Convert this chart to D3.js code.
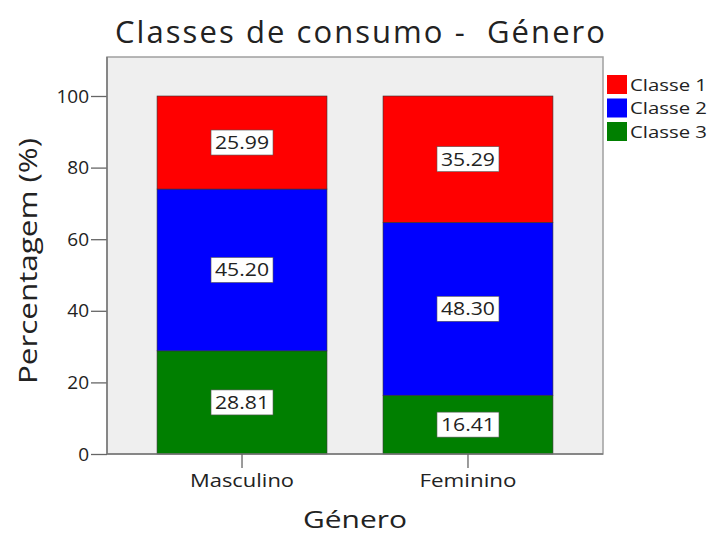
<!DOCTYPE html>
<html><head><meta charset="utf-8">
<script src="https://cdn.jsdelivr.net/npm/d3@7"></script>
<style>body{margin:0;background:#fff}text{font-family:"Open Sans",Lato,sans-serif;fill:#222}</style>
</head><body><svg id="c" width="716" height="535"></svg>
<script>
const categories = ["Masculino", "Feminino"];
const seriesNames = ["Classe 1", "Classe 2", "Classe 3"];
const classe1 = [25.99, 35.29];
const classe2 = [45.20, 48.30];
const classe3 = [28.81, 16.41];
const yTicks = [0, 20, 40, 60, 80, 100];
const colors = ["#ff0000", "#0000ff", "#007f00"];

const svg = d3.select("#c");
const L = 107, R = 603, T = 57, B = 454;
const x = d3.scaleBand().domain(categories).range([L, R]).paddingInner(0.248).paddingOuter(0.2215);
const y = d3.scaleLinear().domain([0, 100]).range([B, 96]);

svg.append("rect").attr("x", L).attr("y", T).attr("width", R - L).attr("height", B - T)
  .attr("fill", "#efefef").attr("stroke", "#a0a0a0").attr("stroke-width", 1.5);

const rows = categories.map((c, i) => ({cat: c, "Classe 3": classe3[i], "Classe 2": classe2[i], "Classe 1": classe1[i]}));
const stack = d3.stack().keys(["Classe 3", "Classe 2", "Classe 1"]);
const layers = stack(rows);
const colorOf = k => colors[seriesNames.indexOf(k)];

layers.forEach(layer => {
  layer.forEach(d => {
    const x0 = x(d.data.cat), w = x.bandwidth();
    svg.append("rect").attr("x", x0).attr("y", y(d[1])).attr("width", w).attr("height", y(d[0]) - y(d[1]))
      .attr("fill", colorOf(layer.key)).attr("stroke", "#333").attr("stroke-width", 0.6);
  });
});
layers.forEach(layer => {
  layer.forEach(d => {
    const cx = x(d.data.cat) + x.bandwidth() / 2, cy = (y(d[0]) + y(d[1])) / 2;
    const v = d[1] - d[0];
    svg.append("rect").attr("x", cx - 31).attr("y", cy - 12.5).attr("width", 62).attr("height", 25)
      .attr("fill", "#fff").attr("stroke", "#555").attr("stroke-width", 0.6);
    svg.append("text").attr("x", cx).attr("y", cy + 6.5).attr("text-anchor", "middle")
      .attr("font-size", 19).attr("textLength", 54).attr("lengthAdjust", "spacingAndGlyphs").text(v.toFixed(2));
  });
});

const yAxis = svg.append("g").attr("transform", `translate(${L},0)`)
  .call(d3.axisLeft(y).tickValues(yTicks).tickSize(16).tickPadding(2));
yAxis.select(".domain").remove();
yAxis.selectAll("line").attr("stroke", "#666").attr("stroke-width", 1.3);
yAxis.selectAll("text").attr("font-size", 19).attr("font-family", "'Open Sans',sans-serif").attr("fill", "#222");
svg.append("line").attr("x1", L).attr("x2", L).attr("y1", T).attr("y2", B).attr("stroke", "#777").attr("stroke-width", 1.5);
svg.append("line").attr("x1", L).attr("x2", R).attr("y1", B).attr("y2", B).attr("stroke", "#777").attr("stroke-width", 1.5);

const xWidths = {"Masculino": 104, "Feminino": 97};
const xAxis = svg.append("g").attr("transform", `translate(0,${B})`)
  .call(d3.axisBottom(x).tickSize(14).tickPadding(6));
xAxis.select(".domain").remove();
xAxis.selectAll("line").attr("stroke", "#666").attr("stroke-width", 1.3);
xAxis.selectAll("text").attr("font-size", 18).attr("font-family", "'Open Sans',sans-serif").attr("fill", "#222")
  .attr("textLength", d => xWidths[d]).attr("lengthAdjust", "spacingAndGlyphs");

svg.append("text").attr("x", 360).attr("y", 43).attr("text-anchor", "middle").attr("font-size", 31)
  .attr("textLength", 490).attr("lengthAdjust", "spacing").style("white-space", "pre")
  .text("Classes de consumo -  Género");
svg.append("text").attr("x", 355).attr("y", 528).attr("text-anchor", "middle").attr("font-size", 24)
  .attr("textLength", 104).attr("lengthAdjust", "spacingAndGlyphs").text("Género");
svg.append("text").attr("transform", "translate(37,261) rotate(-90)").attr("text-anchor", "middle")
  .attr("font-size", 25).attr("textLength", 246).attr("lengthAdjust", "spacingAndGlyphs").text("Percentagem (%)");

seriesNames.forEach((s, i) => {
  const g = svg.append("g").attr("transform", `translate(607,${75 + i * 23.5})`);
  g.append("rect").attr("width", 20).attr("height", 19).attr("fill", colors[i]);
  g.append("text").attr("x", 23).attr("y", 15.5).attr("font-size", 17)
    .attr("textLength", 77).attr("lengthAdjust", "spacingAndGlyphs").text(s);
});
</script></body></html>
